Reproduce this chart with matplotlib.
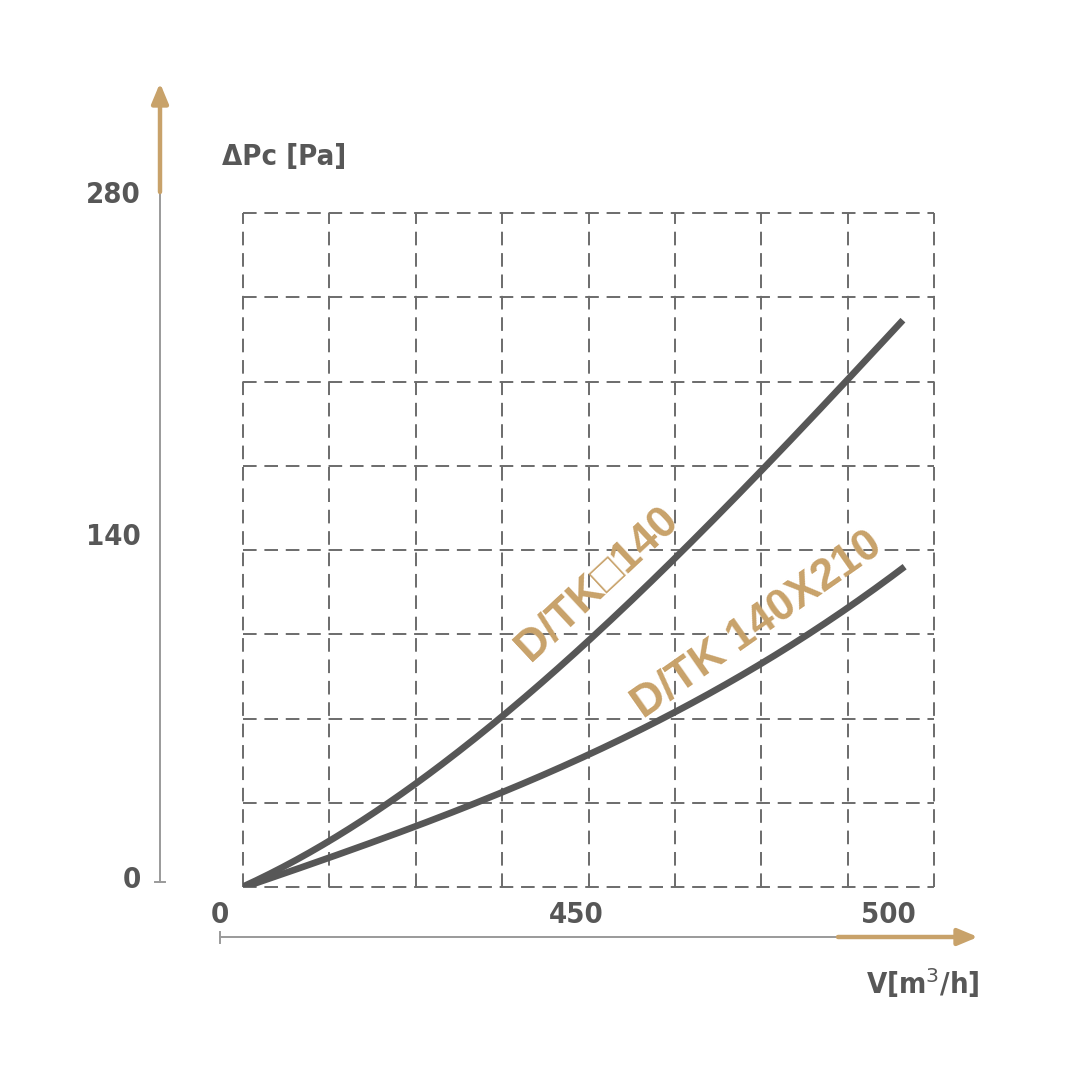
import matplotlib.pyplot as plt
import numpy as np

# grid cells (8 x 8), curves in cell units
n_cols = 8
n_rows = 8

flow_a = [0, 1, 2, 3, 4, 5, 6, 7, 7.64]
dp_a = [0, 0.57, 1.22, 1.96, 2.97, 3.95, 4.92, 5.96, 6.77]

flow_b = [0, 1, 2, 3, 4, 5, 6, 7, 7.66]
dp_b = [0, 0.34, 0.71, 1.12, 1.63, 2.02, 2.66, 3.32, 3.80]

label_a = "D/TK\u25a1140"
label_b = "D/TK 140X210"

y_ticks = ["280", "140", "0"]
x_ticks = ["0", "450", "500"]

GOLD = "#c8a26a"
DARK = "#575757"
GRID = "#6b6b6b"
AXIS = "#9a9a9a"
COND = ["DejaVu Sans"]


def smooth(xs, ys, n=200):
    xx = np.linspace(xs[0], xs[-1], n)
    c = np.polyfit(xs, ys, 3)
    return xx, np.polyval(c, xx)


def main():
    fig = plt.figure(figsize=(10.8, 10.8), dpi=100)
    fig.patch.set_facecolor("white")

    # overlay for the hand-drawn axes, in pixel units
    deco = fig.add_axes([0, 0, 1, 1])
    deco.set_xlim(0, 1080)
    deco.set_ylim(1080, 0)
    deco.axis("off")

    ax = fig.add_axes([243 / 1080, (1080 - 887) / 1080, 691 / 1080, 674 / 1080])
    ax.set_xlim(0, n_cols)
    ax.set_ylim(0, n_rows)
    ax.set_facecolor("none")
    for s in ax.spines.values():
        s.set_visible(False)
    ax.set_xticks([])
    ax.set_yticks([])
    for i in range(n_cols + 1):
        ax.plot([i, i], [0, n_rows], color=GRID, lw=1.4, ls=(0, (7, 4)),
                zorder=1, clip_on=False)
    for j in range(n_rows + 1):
        ax.plot([0, n_cols], [j, j], color=GRID, lw=1.4, ls=(0, (7, 4)),
                zorder=1, clip_on=False)

    xa, ya = smooth(flow_a, dp_a)
    xb, yb = smooth(flow_b, dp_b)
    ax.plot(xa, ya, color=DARK, lw=4.8, solid_capstyle="butt", zorder=3)
    ax.plot(xb, yb, color=DARK, lw=4.8, solid_capstyle="butt", zorder=3)

    lab = dict(color=GOLD, fontsize=32, ha="center", va="center",
               family=["Liberation Sans", "Noto Sans CJK SC", "DejaVu Sans"],
               fontweight="bold", zorder=4)
    ax.text(4.1, 3.6, label_a, rotation=43, **lab)
    ax.text(5.95, 3.1, label_b, rotation=35, **lab)

    # y axis
    deco.plot([160, 160], [882, 190], color=AXIS, lw=1.4)
    deco.plot([155, 165], [882, 882], color=AXIS, lw=1.4)
    deco.annotate("", xy=(160, 83), xytext=(160, 192),
                  arrowprops=dict(arrowstyle="-|>,head_length=1.2,head_width=0.5",
                                  color=GOLD, lw=3.2, shrinkA=0, shrinkB=0))
    # x axis
    deco.plot([220, 840], [937, 937], color=AXIS, lw=1.4)
    deco.plot([220, 220], [932, 943], color=AXIS, lw=1.4)
    deco.annotate("", xy=(978, 937), xytext=(838, 937),
                  arrowprops=dict(arrowstyle="-|>,head_length=1.2,head_width=0.5",
                                  color=GOLD, lw=3.2, shrinkA=0, shrinkB=0))

    tk = dict(color=DARK, fontsize=21, fontweight="bold", family=COND,
              fontstretch="condensed")
    for t, y in zip(y_ticks, [195, 537, 880]):
        deco.text(141, y, t, ha="right", va="center", **tk)
    for t, x in zip(x_ticks, [220, 576, 888]):
        deco.text(x, 915, t, ha="center", va="center", **tk)

    deco.text(222, 157, "\u0394Pc [Pa]", ha="left", va="center", **tk)
    deco.text(980, 983, "V[m$^3$/h]", ha="right", va="center", **tk)

    fig.savefig("out.png", dpi=100, facecolor="white")


if __name__ == "__main__":
    main()
